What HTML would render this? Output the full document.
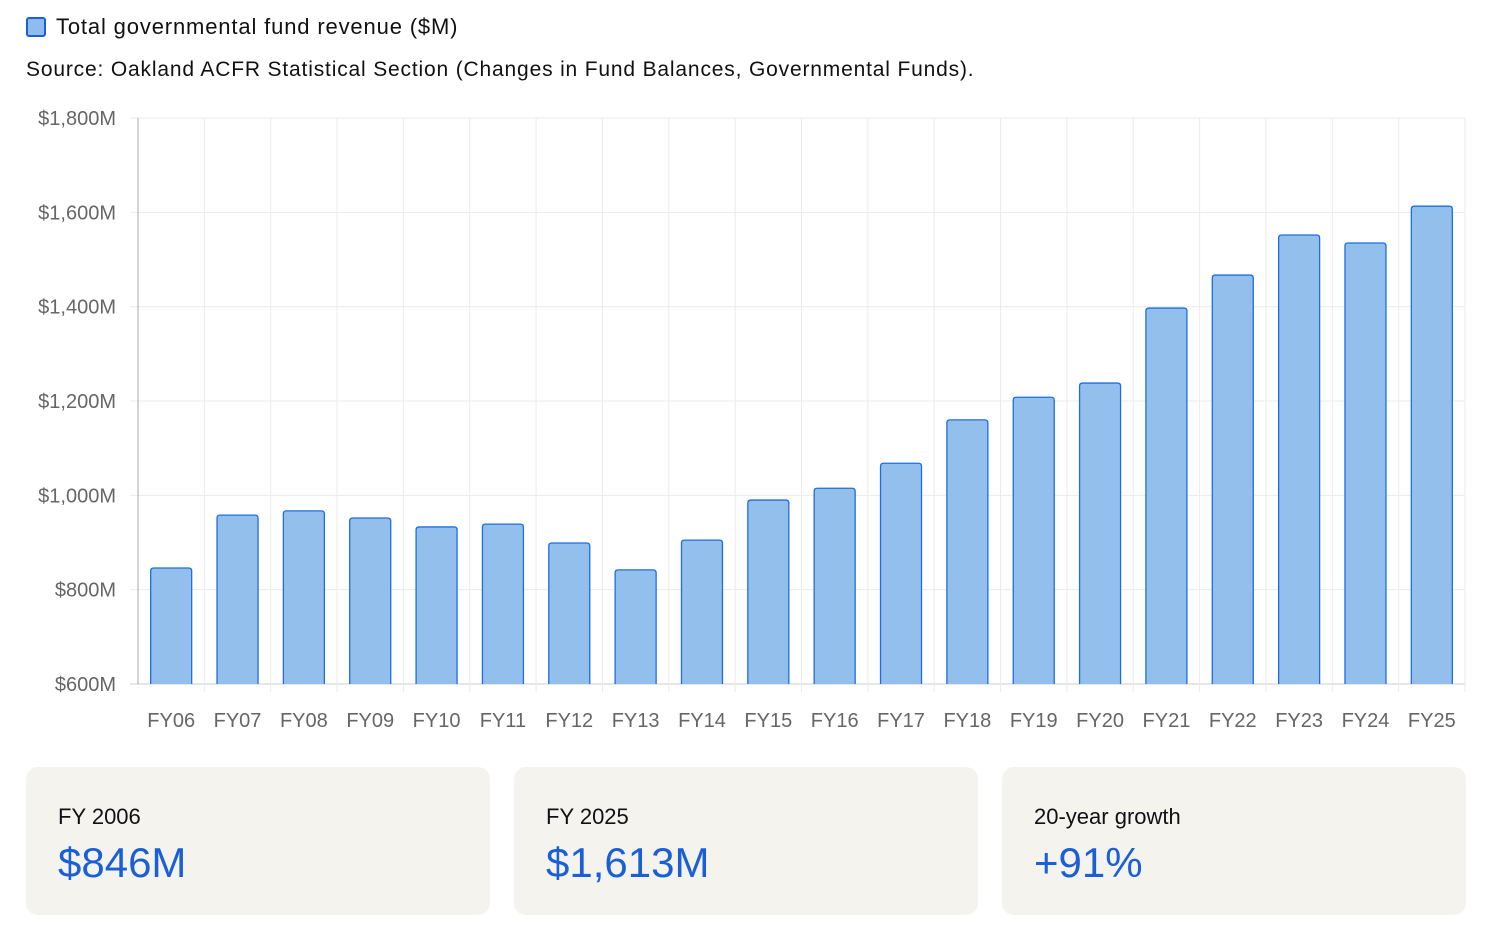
<!DOCTYPE html>
<html><head><meta charset="utf-8">
<style>
body{margin:0;background:#fff;font-family:"Liberation Sans",sans-serif;width:1490px;height:937px;overflow:hidden;position:relative}
.legend{position:absolute;left:26px;top:14px;font-size:22px;color:#111;display:flex;align-items:center;letter-spacing:0.85px}
.sw{width:16px;height:16px;border:2px solid #1a5fd6;background:#8fbcec;border-radius:3px;margin-right:10px}
.src{position:absolute;left:26px;top:58px;font-size:21px;color:#111;letter-spacing:0.83px}
.card{position:absolute;top:767px;width:464px;height:148px;background:#f4f3ee;border-radius:12px}
.card .l{position:absolute;left:32px;top:37px;font-size:22px;color:#111}
.card .v{position:absolute;left:32px;top:72px;font-size:42px;color:#1a5fd6}
</style></head><body>
<div class="legend"><div class="sw"></div>Total governmental fund revenue ($M)</div>
<div class="src">Source: Oakland ACFR Statistical Section (Changes in Fund Balances, Governmental Funds).</div>
<svg id="chart" width="1490" height="760" style="position:absolute;left:0;top:0"></svg>
<div class="card" style="left:26px"><div class="l">FY 2006</div><div class="v">$846M</div></div>
<div class="card" style="left:514px"><div class="l">FY 2025</div><div class="v">$1,613M</div></div>
<div class="card" style="left:1002px"><div class="l">20-year growth</div><div class="v">+91%</div></div>
<script>
const categories=["FY06","FY07","FY08","FY09","FY10","FY11","FY12","FY13","FY14","FY15","FY16","FY17","FY18","FY19","FY20","FY21","FY22","FY23","FY24","FY25"];
const revenue=[846,958,967,952,933,939,899,842,905,990,1015,1068,1160,1208,1238,1397,1467,1552,1535,1613];
const yTicks=[600,800,1000,1200,1400,1600,1800];
const yTickLabels=["$600M","$800M","$1,000M","$1,200M","$1,400M","$1,600M","$1,800M"];
const svg=document.getElementById('chart');
const NS='http://www.w3.org/2000/svg';
const L=138,R=1465,T=118,B=684,yMin=600,yMax=1800;
const y=v=>B-(v-yMin)/(yMax-yMin)*(B-T);
const step=(R-L)/categories.length;
const x=i=>L+i*step;
function mk(tag,attrs){const e=document.createElementNS(NS,tag);for(const k in attrs)e.setAttribute(k,attrs[k]);svg.appendChild(e);return e;}
yTicks.forEach((t,i)=>{
  const g=mk('line',{x1:L-8,x2:R,y1:y(t),y2:y(t),stroke:i==0?'#ccc':'#ebebeb','stroke-width':1});
  
  
  const tx=mk('text',{x:116,y:y(t)+7,'text-anchor':'end','font-size':20,fill:'#666','font-family':'Liberation Sans, sans-serif'});
  tx.textContent=yTickLabels[i];
  
  
});
for(let i=1;i<=categories.length;i++){
  const g=mk('line',{x1:x(i),x2:x(i),y1:T,y2:B+8,stroke:'#ebebeb','stroke-width':1});
  
  
}
const ax=mk('line',{x1:L,x2:L,y1:T,y2:B,stroke:'#aaa','stroke-width':1});


categories.forEach((c,i)=>{
  const bw=41,cx=x(i)+step/2;
  const r=mk('path',{d:`M${cx-bw/2},${B} V${y(revenue[i])+3} q0,-3 3,-3 H${cx+bw/2-3} q3,0 3,3 V${B}`,fill:'#93bfec',stroke:'#1e6ee0','stroke-width':1.3});
  
  
  const tx=mk('text',{x:cx,y:727,'text-anchor':'middle','font-size':20,fill:'#666','font-family':'Liberation Sans, sans-serif'});
  tx.textContent=c;
  
  
});
</script>
</body></html>
